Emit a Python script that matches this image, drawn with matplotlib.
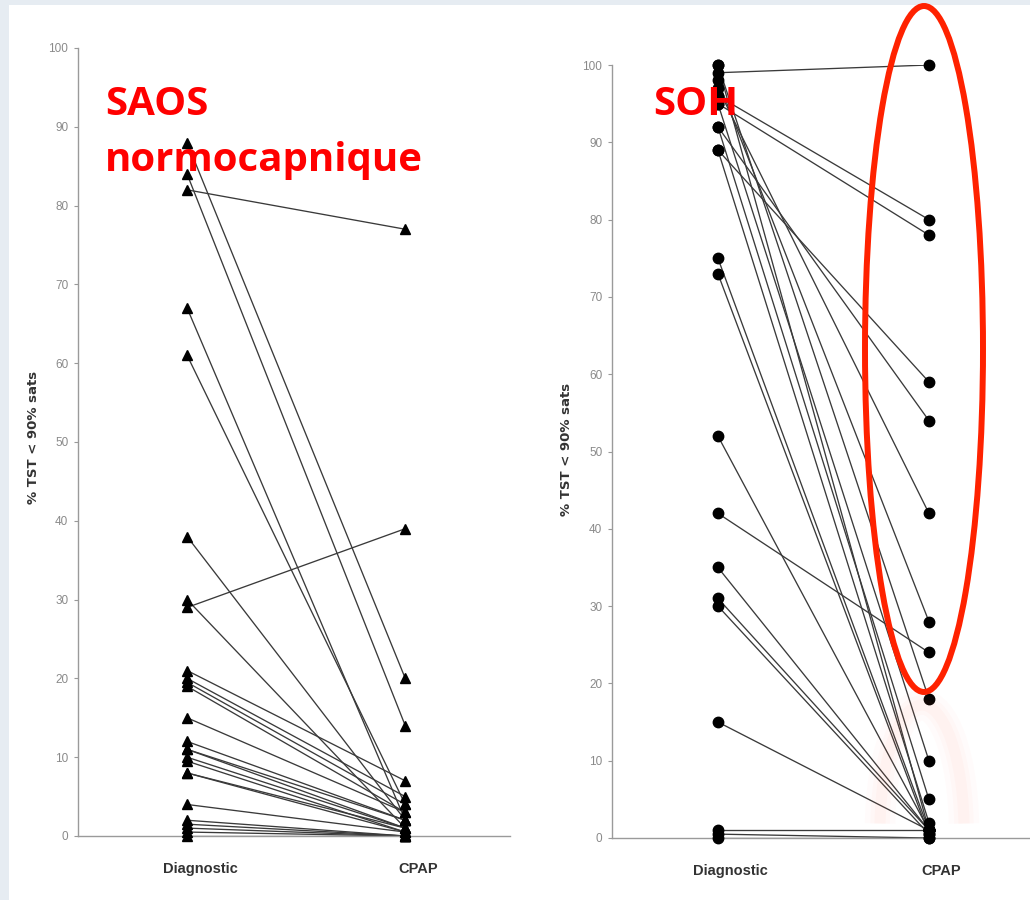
import matplotlib.pyplot as plt
from matplotlib.patches import Ellipse, Arc, Rectangle

# Valeurs individuelles (% du temps de sommeil < 90 % de SpO2)
saos_diag = [88, 84, 82, 67, 61, 38, 30, 29, 21, 20, 19.5, 19, 15, 12, 11, 11, 10, 9.5, 8, 8, 4, 2, 1.5, 1, 0.5, 0]
saos_cpap = [20, 14, 77, 2, 4, 2, 1, 39, 7, 5, 4, 3, 3, 2, 2, 1, 1, 0.5, 1, 0.5, 0.5, 0, 0, 0, 0, 0]

soh_diag = [99, 96, 95, 92, 89, 97, 98, 100, 95, 92, 89, 100, 75, 73, 52, 42, 35, 31, 30, 15, 1, 0.5, 0]
soh_cpap = [100, 80, 78, 54, 59, 42, 28, 18, 10, 5, 2, 1, 1, 0.5, 1, 24, 1, 1, 0.5, 1, 1, 0, 0]

conditions = ['Diagnostic', 'CPAP']
y_ticks = list(range(0, 101, 10))

W, H = 1030, 900
SMALL_FONT = ['Liberation Sans Narrow', 'Liberation Sans', 'DejaVu Sans']


def px_box(left, top, right, bottom):
    """Convertit une boite en pixels en coordonnees de figure."""
    return [left / W, 1 - bottom / H, (right - left) / W, (bottom - top) / H]


def plot_panel(ax, diag, cpap, marker, ms):
    """Trace les paires avant / sous CPAP pour chaque patient."""
    for d, c in zip(diag, cpap):
        ax.plot([0, 1], [d, c], color='#3a3a3a', lw=0.95, zorder=2)
    ax.plot([0] * len(diag), diag, linestyle='none', marker=marker, ms=ms,
            color='black', zorder=3, clip_on=False)
    ax.plot([1] * len(cpap), cpap, linestyle='none', marker=marker, ms=ms,
            color='black', zorder=3, clip_on=False)

    ax.set_xlim(-0.5, 1.48)
    ax.set_ylim(0, 100)
    ax.set_yticks(y_ticks)
    ax.set_yticklabels([str(t) for t in y_ticks], family=SMALL_FONT,
                       fontsize=8.5, color='#8a8a8a')
    ax.tick_params(axis='y', length=3, width=0.8, color='#999999', pad=4)
    ax.set_xticks([0.06, 1.06])
    ax.set_xticklabels(conditions, family=SMALL_FONT,
                       fontsize=10.5, fontweight='bold', color='#333333')
    ax.tick_params(axis='x', length=0, pad=19)
    for side in ['top', 'right']:
        ax.spines[side].set_visible(False)
    for side in ['left', 'bottom']:
        ax.spines[side].set_color('#9a9a9a')
        ax.spines[side].set_linewidth(1.0)
    ax.set_ylabel('% TST < 90% sats', fontsize=9.5, fontweight='bold', color='#333333')
    ax.patch.set_alpha(0)


fig = plt.figure(figsize=(W / 100, H / 100), dpi=100)
fig.patch.set_facecolor('#e6ecf2')
fig.add_artist(Rectangle((9 / W, 0), 1, 1 - 5 / H, transform=fig.transFigure,
                         facecolor='white', edgecolor='none', zorder=0))

ax1 = fig.add_axes(px_box(78, 48, 510, 836))
plot_panel(ax1, saos_diag, saos_cpap, '^', 7.5)
ax1.yaxis.set_label_coords(-0.088, 0.506)

ax2 = fig.add_axes(px_box(612, 65, 1030, 838))
plot_panel(ax2, soh_diag, soh_cpap, 'o', 7.5)
ax2.set_xlim(-0.502, 1.479)
ax2.yaxis.set_label_coords(-0.093, 0.503)

# Titres des groupes
red_font = dict(family=['Open Sans', 'DejaVu Sans'], fontweight='bold',
                color='#ff0000', fontsize=29, va='baseline')
fig.text(105 / W, 1 - 115 / H, 'SAOS', **red_font)
fig.text(105 / W, 1 - 171 / H, 'normocapnique', **red_font)
fig.text(653 / W, 1 - 115 / H, 'SOH', **red_font)

# Halo rose sous l'ellipse
for lw, a in [(22, 0.02), (14, 0.025), (8, 0.03)]:
    fig.add_artist(Arc((922 / W, 1 - 830 / H), 84 / W, 250 / H, theta1=10, theta2=170,
                       transform=fig.transFigure, color='#ff6040', lw=lw, alpha=a, zorder=1))

# Ellipse rouge autour des valeurs sous CPAP
fig.add_artist(Ellipse((924 / W, 1 - 349 / H), 118 / W, 686 / H, transform=fig.transFigure,
                       fill=False, edgecolor='#ff2200', lw=4.3, zorder=5))

plt.savefig('out.png', dpi=100)
